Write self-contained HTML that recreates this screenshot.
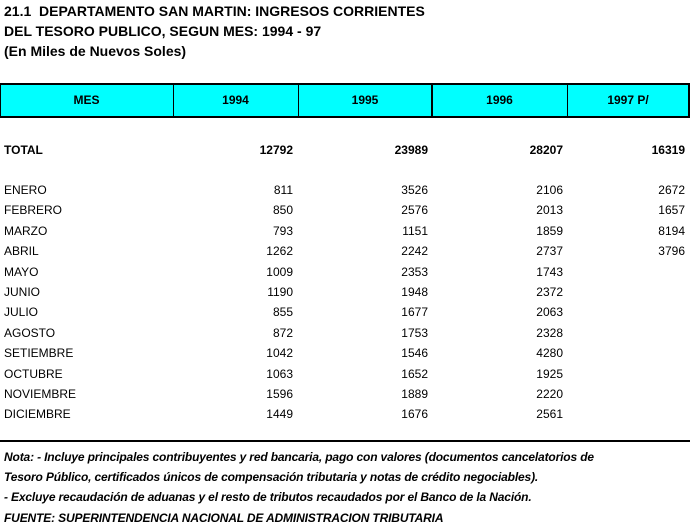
<!DOCTYPE html>
<html><head><style>
body{margin:0;width:690px;height:526px;background:#fff;font-family:"Liberation Sans",Arial,sans-serif;color:#000;position:relative;overflow:hidden}
.t{position:absolute;left:4px;font-weight:bold;font-size:14px;white-space:nowrap}
.band{position:absolute;left:0;top:83px;width:688px;height:31px;background:#00ffff;border-top:2px solid #000;border-bottom:2px solid #000}
.v{position:absolute;top:83px;height:35px;width:1px;background:#000}
.h{position:absolute;top:93px;font-size:12px;font-weight:bold;text-align:center}
.r{position:absolute;font-size:12px;white-space:nowrap}
.n{position:absolute;font-size:12px;text-align:right;width:80px}
.note{position:absolute;left:4px;font-size:12px;font-style:italic;font-weight:bold;white-space:nowrap;letter-spacing:-0.15px}
</style></head><body>
<div class="t" style="top:3px">21.1&nbsp; DEPARTAMENTO SAN MARTIN: INGRESOS CORRIENTES</div>
<div class="t" style="top:23px">DEL TESORO PUBLICO, SEGUN MES: 1994 - 97</div>
<div class="t" style="top:43px">(En Miles de Nuevos Soles)</div>
<div class="band"></div>
<div class="v" style="left:0"></div>
<div class="v" style="left:173px"></div>
<div class="v" style="left:298px"></div>
<div class="v" style="left:431px;width:2px"></div>
<div class="v" style="left:567px"></div>
<div class="v" style="left:688px;width:2px"></div>
<div class="h" style="left:0;width:173px">MES</div>
<div class="h" style="left:173px;width:125px">1994</div>
<div class="h" style="left:298px;width:134px">1995</div>
<div class="h" style="left:432px;width:135px">1996</div>
<div class="h" style="left:567px;width:122px">1997 P/</div>
<div id="rows"></div>
<div style="position:absolute;left:0;top:440px;width:690px;height:2px;background:#000"></div>
<div class="note" style="top:450px">Nota: - Incluye principales contribuyentes y red bancaria, pago con valores (documentos cancelatorios de</div>
<div class="note" style="top:470px">Tesoro Público, certificados únicos de compensación tributaria y notas de crédito negociables).</div>
<div class="note" style="top:490px">- Excluye recaudación de aduanas y el resto de tributos recaudados por el Banco de la Nación.</div>
<div class="note" style="top:511px">FUENTE: SUPERINTENDENCIA NACIONAL DE ADMINISTRACION TRIBUTARIA</div>
<script>
var d=[["TOTAL","12792","23989","28207","16319",143,1],
["ENERO","811","3526","2106","2672",183],
["FEBRERO","850","2576","2013","1657"],
["MARZO","793","1151","1859","8194"],
["ABRIL","1262","2242","2737","3796"],
["MAYO","1009","2353","1743",""],
["JUNIO","1190","1948","2372",""],
["JULIO","855","1677","2063",""],
["AGOSTO","872","1753","2328",""],
["SETIEMBRE","1042","1546","4280",""],
["OCTUBRE","1063","1652","1925",""],
["NOVIEMBRE","1596","1889","2220",""],
["DICIEMBRE","1449","1676","2561",""]];
var h="",y=0,R=[293,428,563,685];
d.forEach(function(r,i){if(r[5])y=r[5];else y+=20.4;var b=r[6]?"font-weight:bold;":"";
h+='<div class="r" style="left:4px;top:'+y+'px;'+b+'">'+r[0]+'</div>';
for(var j=0;j<4;j++)h+='<div class="n" style="left:'+(R[j]-80)+'px;top:'+y+'px;'+b+'">'+r[j+1]+'</div>';});
document.getElementById("rows").innerHTML=h;
</script>
</body></html>
